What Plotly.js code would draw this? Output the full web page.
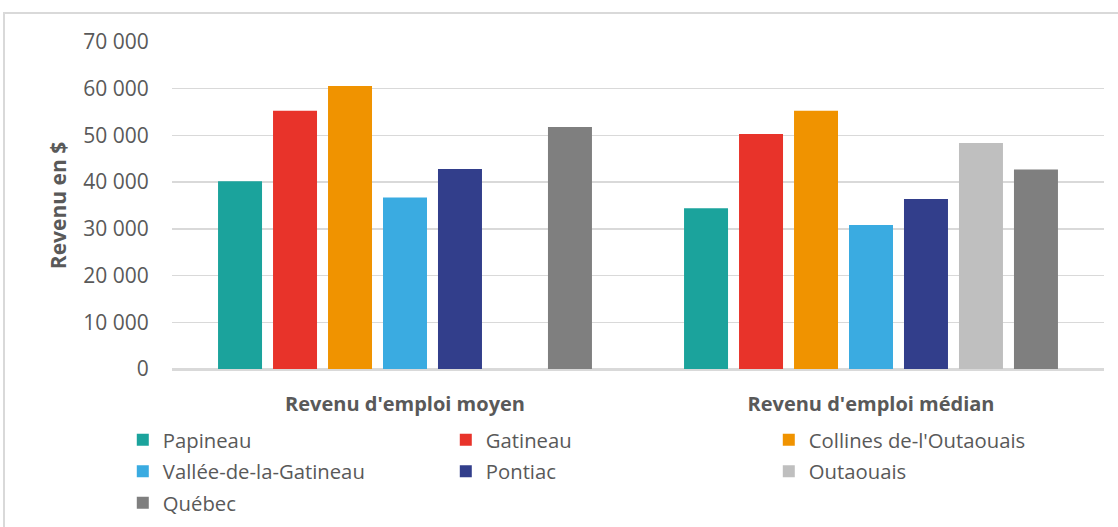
<!DOCTYPE html>
<html>
<head>
<meta charset="utf-8">
<script src="https://cdn.plot.ly/plotly-3.0.1.min.js"></script>
<style>
  html, body { margin: 0; padding: 0; background: #ffffff; width: 1118px; height: 527px; overflow: hidden; }
  #frame { position: absolute; left: 3px; top: 12px; width: 1200px; height: 600px;
           border-left: 2px solid #D9D9D9; border-top: 2px solid #D9D9D9; pointer-events: none; z-index: 2; }
  #chart { position: absolute; left: 0; top: 0; width: 1118px; height: 527px; }
</style>
</head>
<body>
<div id="chart"></div>
<div id="frame"></div>
<script>
const categories = ["Revenu d'emploi moyen", "Revenu d'emploi médian"];
const seriesNames = ["Papineau", "Gatineau", "Collines de-l'Outaouais", "Vallée-de-la-Gatineau", "Pontiac", "Outaouais", "Québec"];
const papineau   = [40200, 34400];
const gatineau   = [55300, 50300];
const collines   = [60600, 55300];
const vallee     = [36700, 30800];
const pontiac    = [42800, 36400];
const outaouais  = [null, 48400];
const quebec     = [51800, 42700];
const yTicks = [0, 10000, 20000, 30000, 40000, 50000, 60000, 70000];

const seriesValues = [papineau, gatineau, collines, vallee, pontiac, outaouais, quebec];
const colors = ["#1BA39C", "#E8332A", "#F09300", "#3AABE1", "#323E8B", "#BFBFBF", "#7F7F7F"];
// legend row for each series (3 per row, like the reference)
const legendRows = ["legend", "legend", "legend", "legend2", "legend2", "legend2", "legend3"];

const FONT = "'Open Sans', sans-serif";
const TXT = "#595959";

const traces = seriesNames.map((name, i) => ({
  type: "bar",
  name: name,
  x: categories,
  y: seriesValues[i],
  legend: legendRows[i],
  marker: { color: colors[i], line: { width: 0 } },
  hoverinfo: "name+y"
}));

function legendAt(yPaper) {
  return {
    orientation: "h",
    x: -0.0528,
    xanchor: "left",
    y: yPaper,
    yanchor: "middle",
    entrywidth: 278,
    entrywidthmode: "pixels",
    itemwidth: 30,
    traceorder: "normal",
    font: { family: FONT, color: TXT, size: 20.3 },
    bgcolor: "rgba(0,0,0,0)",
    borderwidth: 0
  };
}
// plot area spans y 42..369 (height 327)
const plotH = 527 - 42 - 158;
const rowY = (px) => (369 - px) / plotH;

const layout = {
  width: 1118,
  height: 527,
  margin: { l: 172, r: 14, t: 42, b: 158, pad: 0, autoexpand: false },
  paper_bgcolor: "#ffffff",
  plot_bgcolor: "#ffffff",
  separators: ", ",
  barmode: "group",
  bargap: 0.174,
  bargroupgap: 0.2,
  font: { family: FONT, color: TXT, size: 20 },
  showlegend: true,
  legend: legendAt(rowY(440)),
  legend2: legendAt(rowY(471.5)),
  legend3: legendAt(rowY(503)),
  xaxis: {
    type: "category",
    showgrid: false,
    showline: true,
    linecolor: "#D9D9D9",
    linewidth: 1.5,
    ticks: "outside",
    ticklen: 16,
    tickcolor: "rgba(0,0,0,0)",
    tickfont: { family: FONT, color: TXT, size: 20, weight: "bold" },
    fixedrange: true
  },
  yaxis: {
    range: [0, 70000],
    tickvals: yTicks,
    tickformat: ",.0f",
    showgrid: true,
    gridcolor: "#D9D9D9",
    gridwidth: 1.5,
    zeroline: true,
    zerolinecolor: "#D9D9D9",
    zerolinewidth: 1.5,
    showline: false,
    ticks: "outside",
    ticklen: 18,
    tickcolor: "rgba(0,0,0,0)",
    tickfont: { family: FONT, color: TXT, size: 21 },
    title: { text: "Revenu en $", font: { family: FONT, color: TXT, size: 21, weight: "bold" }, standoff: 10 },
    fixedrange: true
  }
};

Plotly.newPlot("chart", traces, layout, { displayModeBar: false, staticPlot: true });
</script>
</body>
</html>
